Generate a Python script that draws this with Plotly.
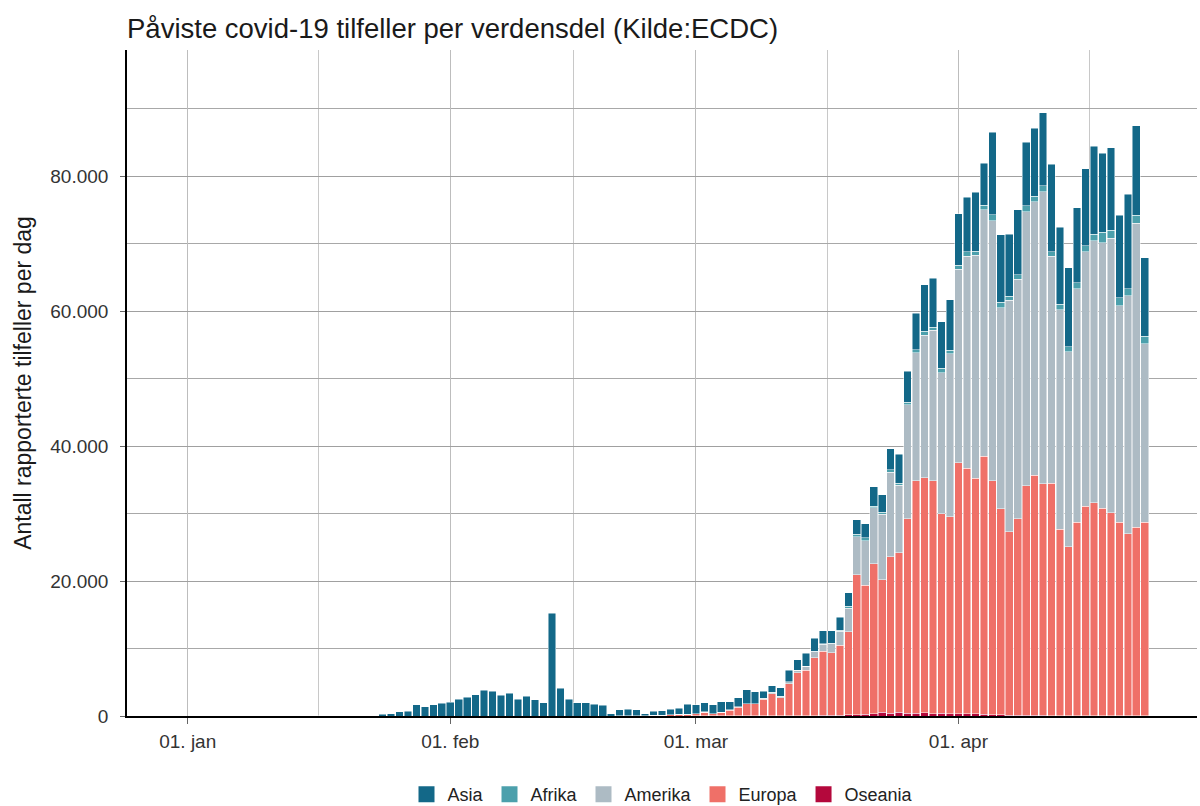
import pandas as pd
import plotly.graph_objects as go

# ---------------- data (daily reported cases) ----------------
dates = pd.date_range("2019-12-31", "2020-04-23", freq="D")   # 115 days

asia = (
    [27]
    + [0, 0, 17, 0, 0, 0, 0, 0, 0, 0, 0, 0, 1, 1, 1, 1, 5, 17, 40, 19, 50, 40, 60,
       250, 350, 600, 700, 1650, 1400, 1650, 1900]
    + [2050, 2500, 2750, 3150, 3850, 3700, 3100, 3400, 2500, 2950, 2400, 1950, 15250, 4100,
       2500, 1950, 1950, 1750, 1600, 350, 890, 980, 840, 290, 620, 630, 800, 900, 1500]
    + [1380, 1350, 1300, 1550, 1200, 1350, 2050, 1750, 1100, 1000, 1300, 1700, 1500, 1900,
       1900, 1900, 1800, 1900, 1950, 2200, 2100, 2900, 2600, 3100, 4300, 4600, 5400, 6900,
       7300, 6900, 7500]
    + [7600, 8100, 8700, 6200, 12200, 10000, 9200, 9600, 9400, 10100, 10800, 13000, 11400,
       11700, 11100, 11400, 13000, 11700, 12200, 12200, 14000, 13300, 11600]
)

afrika = (
    [0] * 61
    + [5, 10, 10, 10, 10, 10, 10, 10, 20, 20, 30, 30, 40, 60, 80, 100, 100, 150, 300, 300,
       400, 200, 300, 400, 300, 400, 500, 600, 400, 600, 500]
    + [600, 700, 600, 700, 900, 800, 600, 700, 900, 800, 900, 700, 800, 700, 900, 900, 1000,
       1600, 1200, 1200, 1000, 1200, 1100]
)

amerika = (
    [0] * 56
    + [5, 10, 5, 10, 15]
    + [20, 40, 40, 40, 40, 40, 40, 40, 80, 180, 170, 270, 360, 540, 920, 1000, 1300, 2050,
       3550, 5700, 6600, 8300, 9700, 12500, 10000, 16900, 18900, 21100, 22300, 20900, 24200]
    + [28700, 31400, 33100, 36500, 38500, 29800, 34300, 35500, 40600, 40500, 43300, 33600,
       32500, 28900, 34600, 37700, 38800, 39300, 40700, 32100, 35300, 45000, 26500]
)

europa = (
    [0] * 52
    + [10, 20, 60, 60, 80, 120, 200, 250, 250]
    + [295, 545, 290, 490, 835, 1285, 1780, 1780, 2480, 3270, 2670, 4760, 6340, 6730, 8530,
       9500, 9320, 10380, 12300, 20700, 19150, 22250, 19650, 23200, 23650, 28800, 34500,
       34850, 34550, 29600, 29150]
    + [37150, 36400, 34900, 38250, 34750, 30550, 27200, 29100, 34000, 35600, 34320, 34440,
       27660, 25060, 28660, 31060, 31570, 30770, 30080, 28680, 26980, 27980, 28680]
)

oseania = (
    [0] * 61
    + [5, 5, 10, 10, 15, 15, 20, 20, 20, 30, 30, 40, 60, 70, 70, 100, 80, 120, 150, 200, 250,
       350, 550, 400, 550, 400, 400, 450, 350, 400, 350]
    + [350, 300, 300, 250, 150, 150, 100, 100, 100, 100, 80, 60, 40, 40, 40, 40, 30, 30, 20,
       20, 20, 20, 20]
)

x_tick_vals = ["2020-01-01", "2020-02-01", "2020-03-01", "2020-04-01"]
x_tick_text = ["01. jan", "01. feb", "01. mar", "01. apr"]
x_minor_vals = ["2020-01-16 12:00", "2020-02-15 12:00", "2020-03-16 12:00", "2020-04-16 12:00"]
y_tick_vals = [0, 20000, 40000, 60000, 80000]
y_tick_text = ["0", "20.000", "40.000", "60.000", "80.000"]

series = [
    ("Oseania", oseania, "#B4083C"),
    ("Europa", europa, "#EF7068"),
    ("Amerika", amerika, "#ADBBC4"),
    ("Afrika", afrika, "#4CA0AC"),
    ("Asia", asia, "#136888"),
]

FONT = "Liberation Sans, Arial, sans-serif"

fig = go.Figure()
for name, vals, col in series:
    fig.add_trace(go.Bar(
        x=dates, y=vals, name=name, showlegend=False,
        marker=dict(color=col, line=dict(color="rgba(255,255,255,0.8)", width=0.6)),
    ))
# legend keys (larger square swatches than bar legend symbols)
for name, vals, col in series:
    fig.add_trace(go.Scatter(
        x=[None], y=[None], name=name, mode="markers", showlegend=True,
        marker=dict(symbol="square", size=20, color=col),
    ))

fig.update_layout(
    width=1200, height=806,
    barmode="stack",
    bargap=0.1,
    plot_bgcolor="white",
    paper_bgcolor="white",
    font=dict(family=FONT, color="#222222"),
    margin=dict(l=127, r=3, t=50, b=90, autoexpand=False),
    title=dict(
        text="Påviste covid-19 tilfeller per verdensdel (Kilde:ECDC)",
        x=0, xref="paper", xanchor="left",
        y=1 - 28 / 806, yref="container", yanchor="middle",
        font=dict(family=FONT, size=27.5, color="#1a1a1a"),
    ),
    legend=dict(
        orientation="h", x=0.5, xanchor="center", y=-0.118, yanchor="middle",
        traceorder="reversed", font=dict(size=18, color="#222222"),
        itemwidth=32, itemsizing="trace",
    ),
    showlegend=True,
)

fig.update_xaxes(
    type="date",
    range=["2019-12-24 20:00", "2020-04-29 04:00"],
    tickmode="array", tickvals=x_tick_vals, ticktext=x_tick_text,
    tickfont=dict(size=19, color="#333333"),
    showgrid=True, gridcolor="#bdbdbd", gridwidth=1,
    minor=dict(tickmode="array", tickvals=x_minor_vals, showgrid=True,
               gridcolor="#c8c8c8", gridwidth=1, ticks=""),
    showline=True, linecolor="black", linewidth=1.6,
    ticks="outside", ticklen=6, tickcolor="#666666",
    ticklabelstandoff=1,
    zeroline=False, automargin=False,
)

fig.update_yaxes(
    range=[0, 98700],
    tickmode="array", tickvals=y_tick_vals, ticktext=y_tick_text,
    tickfont=dict(size=19, color="#333333"),
    showgrid=True, gridcolor="#a0a0a0", gridwidth=1,
    minor=dict(dtick=10000, tick0=0, showgrid=True, gridcolor="#a8a8a8", gridwidth=1, ticks=""),
    showline=True, linecolor="black", linewidth=1.6,
    ticks="outside", ticklen=5, tickcolor="#666666",
    ticklabelstandoff=8,
    zeroline=False, automargin=False,
    title=dict(text="Antall rapporterte tilfeller per dag",
               font=dict(size=23, color="#1a1a1a"), standoff=12),
)

post = "document.body.style.margin='0';document.body.style.overflow='hidden';"
fig.write_html("out.html", post_script=post, config={"displayModeBar": False})
